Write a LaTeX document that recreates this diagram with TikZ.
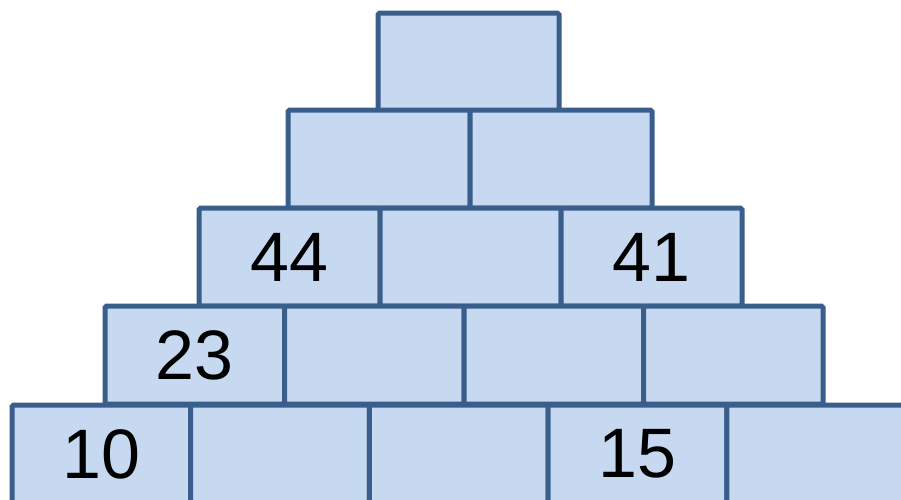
\documentclass[tikz,border=0pt]{standalone}
\usepackage{fontspec}
\setmainfont{Liberation Sans}
\usepackage{tikz}

\definecolor{ladrillo}{HTML}{C6D9F1}
\definecolor{borde}{HTML}{3A5E8C}

\begin{document}
\begin{tikzpicture}[x=0.5pt, y=-0.5pt,
    caja/.style={draw=borde, fill=ladrillo, line width=2.5pt,
        rounded corners=0.8pt, anchor=north west, inner sep=0pt,
        outer sep=0pt, minimum width=#1*0.5pt, minimum height=49pt,
        font=\fontsize{35}{35}\selectfont}]

    % Marco
    \useasboundingbox (0,0) rectangle (901,499);
    \clip (0,0) rectangle (901,499);

    % Piramide: fila/izquierda/ancho/arriba/numeros
    \foreach \fila/\izq/\ancho/\arriba/\numeros in {
            1/378/181/13/{{}},
            2/288/182/110/{{},{}},
            3/199/181/208/{44,{},41},
            4/105/179.5/306/{23,{},{},{}},
            5/12/178.7/405/{10,{},{},15,{}}}{
        \foreach \n [count=\k] in \numeros{
            \node[caja=\ancho] (b-\fila-\k)
                at ({\izq+(\k-1)*\ancho}, \arriba) {\raisebox{-1pt}{\n}};
        }
    }

\end{tikzpicture}
\end{document}
